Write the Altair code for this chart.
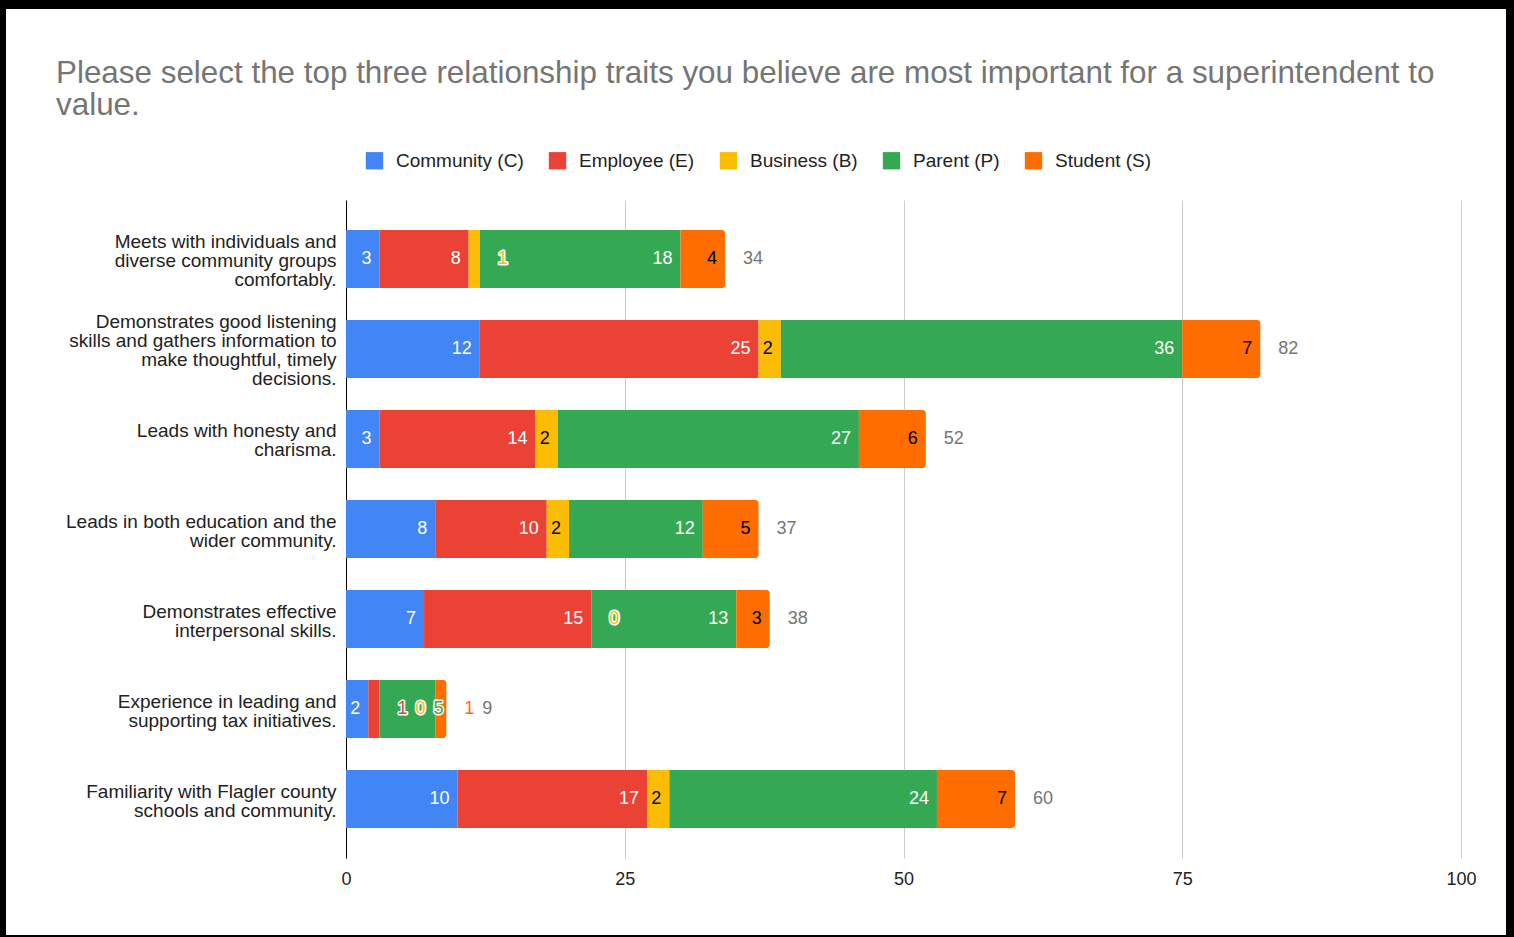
import altair as alt
import pandas as pd

# ---------------- data ----------------
trait_labels = [
    "Meets with individuals and|diverse community groups|comfortably.",
    "Demonstrates good listening|skills and gathers information to|make thoughtful, timely|decisions.",
    "Leads with honesty and|charisma.",
    "Leads in both education and the|wider community.",
    "Demonstrates effective|interpersonal skills.",
    "Experience in leading and|supporting tax initiatives.",
    "Familiarity with Flagler county|schools and community.",
]
series_names = ["Community (C)", "Employee (E)", "Business (B)", "Parent (P)", "Student (S)"]
series_colors = ["#4285F4", "#EA4335", "#FBBC04", "#34A853", "#FF6D01"]
inside_text_colors = ["white", "white", "black", "white", "black"]

community = [3, 12, 3, 8, 7, 2, 10]
employee = [8, 25, 14, 10, 15, 1, 17]
business = [1, 2, 2, 2, 0, 0, 2]
parent = [18, 36, 27, 12, 13, 5, 24]
student = [4, 7, 6, 5, 3, 1, 7]

x_ticks = [0, 25, 50, 75, 100]

# ---------------- layout constants ----------------
PLOT_W = 1115
PLOT_H = 658
PX = PLOT_W / 100.0
FONT = "Liberation Sans"
FS = 18
DIGIT_W = 0.556 * FS
GAP = 8

values_by_series = [community, employee, business, parent, student]

bar_rows = []
label_rows = []
for i, trait in enumerate(trait_labels):
    end = 0
    cursor = -1e9
    for s, name in enumerate(series_names):
        v = values_by_series[s][i]
        start = end
        end = start + v
        bar_rows.append({"trait": trait, "series": name, "start": start, "end": end,
                         "value": v, "is_student": s == 4})
        txt = str(v)
        w = DIGIT_W * len(txt)
        inside = v > 0 and v * PX >= w + 8
        if inside:
            left = end * PX - 8 - w
            if left < cursor + GAP:
                inside = False
                left = cursor + GAP
        else:
            left = max(end * PX + 18, cursor + GAP)
        cursor = left + w
        label_rows.append({"trait": trait, "text": txt, "xpos": left / PX,
                           "color": inside_text_colors[s] if inside else series_colors[s],
                           "kind": "inside" if inside else "outside"})
    txt = str(end)
    left = max(end * PX + 18, cursor + GAP)
    label_rows.append({"trait": trait, "text": txt, "xpos": left / PX,
                       "color": "#757575", "kind": "total"})

bars = pd.DataFrame(bar_rows)
labels = pd.DataFrame(label_rows)

# vertical centring of the wrapped axis labels
label_offset = {
    "condition": [
        {"test": "length(split(datum.label, '|')) == 4", "value": -26.5},
        {"test": "length(split(datum.label, '|')) == 3", "value": -17},
        {"test": "length(split(datum.label, '|')) == 2", "value": -7.5},
    ],
    "value": 0,
}

# ---------------- encodings ----------------
y_enc = alt.Y(
    "trait:N",
    sort=trait_labels,
    title=None,
    scale=alt.Scale(paddingInner=0.356, paddingOuter=0.333),
    axis=alt.Axis(
        labelExpr="split(datum.label, '|')",
        labelFont=FONT, labelFontSize=19, labelColor="#222222",
        labelLineHeight=19, labelLimit=0, labelPadding=10,
        labelOffset=label_offset,
        ticks=False, domain=True, domainColor="#000000", domainWidth=1,
        grid=False,
    ),
)
x_enc_kwargs = dict(
    scale=alt.Scale(domain=[0, 100], nice=False),
    title=None,
    axis=alt.Axis(values=x_ticks, grid=True, gridColor="#cccccc", ticks=False,
                  domain=False, labelFont=FONT, labelFontSize=FS, labelColor="#222222",
                  labelPadding=12, labelFlush=False),
)
color_enc = alt.Color(
    "series:N",
    scale=alt.Scale(domain=series_names, range=series_colors),
    legend=alt.Legend(
        title=None, orient="none", direction="horizontal",
        legendX=19, legendY=-49,
        symbolType="square", symbolSize=300, symbolStrokeWidth=0,
        labelFont=FONT, labelFontSize=19, labelColor="#222222",
        labelOffset=12, columnPadding=24, padding=0,
    ),
)

# black picture frame (decoration, pixel edges relative to the plot area)
def edge(x0, x1, y0, y1):
    return alt.Chart(pd.DataFrame({"a": [0]})).mark_rect(color="black").encode(
        x=alt.value(x0), x2=alt.value(x1), y=alt.value(y0), y2=alt.value(y1)
    )

frame = [
    edge(-346, PLOT_W + 53, -200, -191),          # top
    edge(-346, -340, -200, PLOT_H + 79),          # left
    edge(PLOT_W + 45, PLOT_W + 53, -200, PLOT_H + 79),  # right
    edge(-346, PLOT_W + 53, PLOT_H + 77, PLOT_H + 79),  # bottom
]

base_bars = alt.Chart(bars)
bars_main = base_bars.transform_filter("!datum.is_student").mark_bar().encode(
    x=alt.X("start:Q", **x_enc_kwargs), x2="end:Q", y=y_enc, color=color_enc,
)
bars_student = base_bars.transform_filter("datum.is_student").mark_bar(
    cornerRadiusTopRight=3, cornerRadiusBottomRight=3
).encode(
    x=alt.X("start:Q", **x_enc_kwargs), x2="end:Q", y=y_enc, color=color_enc,
)

base_lab = alt.Chart(labels)
text_kw = dict(align="left", baseline="middle", font=FONT, fontSize=FS)
halo = base_lab.transform_filter("datum.kind == 'outside'").mark_text(
    stroke="white", strokeWidth=3, strokeJoin="round", fill="white", **text_kw
).encode(x=alt.X("xpos:Q"), y=y_enc, text="text:N")
txt = base_lab.mark_text(**text_kw).encode(
    x=alt.X("xpos:Q"), y=y_enc, text="text:N",
    color=alt.Color("color:N", scale=None),
)

chart = alt.layer(bars_main, bars_student, halo, txt, *frame).properties(
    width=PLOT_W,
    height=PLOT_H,
    title=alt.TitleParams(
        text=["Please select the top three relationship traits you believe are most important for a superintendent to",
              "value."],
        font=FONT, fontSize=31.4, fontWeight="normal", color="#757575",
        anchor="start", frame="group", dx=-290, dy=125, lineHeight=32,
    ),
    autosize=alt.AutoSizeParams(type="none"),
    padding={"left": 346, "top": 200, "right": 53, "bottom": 79},
    background="white",
).configure_view(stroke="transparent")

chart.save("out.html", embed_options={"renderer": "svg", "actions": False})
